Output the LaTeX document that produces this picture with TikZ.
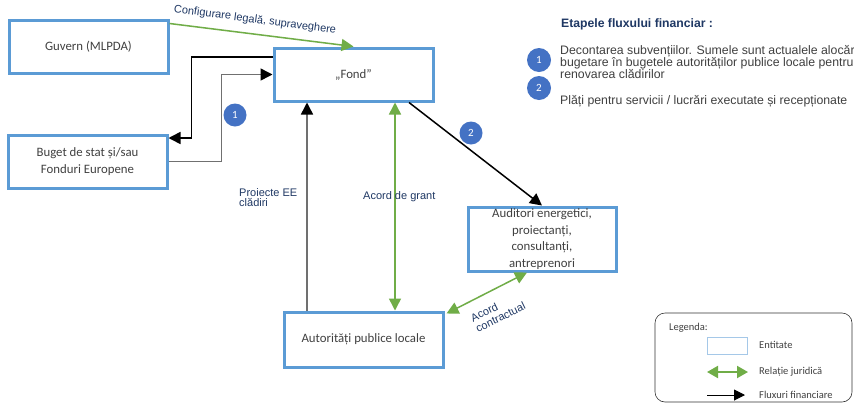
\documentclass[tikz,border=0pt]{standalone}
\usepackage{fontspec}
\setmainfont{Carlito}
\newfontfamily\arialf{Liberation Sans}
\usetikzlibrary{arrows.meta,calc}
\definecolor{boxblue}{HTML}{5B9BD5}
\definecolor{legalgreen}{HTML}{70AD47}
\definecolor{circblue}{HTML}{4472C4}
\definecolor{navy}{HTML}{1F3864}
\definecolor{bodygray}{HTML}{404040}
\definecolor{linegray}{HTML}{707070}
\tikzset{
  entity/.style={draw=boxblue, line width=3pt, fill=white, align=center, text=bodygray,
    font=\fontsize{12.8}{16.5}\selectfont, inner sep=0pt},
  fin/.style={draw=black, line width=1.5pt, -{Triangle[length=12pt,width=12pt]}},
  fingray/.style={draw=linegray, line width=1.5pt, -{Triangle[length=12pt,width=12pt,fill=black,color=black]}},
  legal/.style={draw=legalgreen, line width=1.5pt, {Triangle[length=12pt,width=12pt]}-{Triangle[length=12pt,width=12pt]}},
  legalone/.style={draw=legalgreen, line width=1.5pt, -{Triangle[length=12pt,width=12pt]}},
  numc/.style={circle, fill=circblue, text=white, minimum size=23pt, inner sep=0pt, font=\fontsize{11}{11}\selectfont},
  lbl/.style={text=navy, font=\arialf\fontsize{11}{10}\selectfont, inner sep=0pt, align=left},
  rtext/.style={text=bodygray, font=\arialf\fontsize{12.3}{12}\selectfont, inner sep=0pt, anchor=west},
  legtext/.style={text=bodygray, font=\fontsize{10.5}{12}\selectfont, inner sep=0pt, anchor=west}
}
\begin{document}
\begin{tikzpicture}[x=1pt,y=-1pt]
\useasboundingbox (0,0) rectangle (854,405);
\clip (0,0) rectangle (854,405);
\fill[white] (0,0) rectangle (854,405);

% entities
\node[entity, minimum width=159pt, minimum height=53pt] (guv) at (88.5,46.5) {Guvern (MLPDA)};
\node[entity, minimum width=159pt, minimum height=53pt] (fond) at (353.5,74.5) {„Fond”};
\node[entity, minimum width=159pt, minimum height=53pt] (buget) at (87.5,161.5) {Buget de stat și/sau\\Fonduri Europene};
\node[entity, minimum width=159pt, minimum height=55pt] (aut) at (363.5,339.5) {Autorități publice locale};
\node[entity, minimum width=148pt, minimum height=64pt] (aud) at (542,239) {Auditori energetici,\\proiectanți,\\consultanți,\\antreprenori};

% connectors
\draw[legalone] ([yshift=-5pt]guv.north east) -- (fond.north);
\node[lbl, rotate=-7.5] (lcfg) at (255,20) {Configurare legală, supraveghere};

\draw[fin] ([yshift=17.5pt]fond.west) -- ++(-81,0) |- ([yshift=23.5pt]buget.east);
\draw[fingray] (buget.east) -- ++(53,0) |- (fond.west);
\node[numc] (c1) at (235,115) {1};

\draw[fingray] ([xshift=-56.5pt]aut.north) -- ([xshift=-56.5pt]aut.north |- fond.south);
\node[lbl, anchor=north west] (lproj) at (239,188) {Proiecte EE\\clădiri};

\draw[legal] ([xshift=31.5pt]aut.north |- fond.south) -- ([xshift=31.5pt]aut.north);
\node[lbl, anchor=west] (lgrant) at (363,197) {Acord de grant};

\draw[fin] ([xshift=55.5pt]fond.south) -- (aud.north);
\node[numc] (c2) at (471,133) {2};

\draw[legal] ([xshift=2pt,yshift=-3pt]aut.north east) -- ([xshift=-15pt]aud.south);
\node[lbl, rotate=26, font=\arialf\fontsize{11}{11.5}\selectfont] (lcontr) at (498,312) {Acord\\contractual};

% right explanation
\node[text=navy, font=\arialf\bfseries\fontsize{12.2}{12}\selectfont, inner sep=0pt, anchor=west] (title) at (561,24) {Etapele fluxului financiar :};
\node[numc, minimum size=24pt] (k1) at (539,60) {1};
\node[numc, minimum size=24pt] (k2) at (539,88) {2};
\node[rtext] (t1) at (560,51) {Decontarea subvențiilor. Sumele sunt actualele alocări};
\node[rtext] (t2) at (560,63) {bugetare în bugetele autorităților publice locale pentru};
\node[rtext] (t3) at (560,74.5) {renovarea clădirilor};
\node[rtext] (t4) at (560,101) {Plăți pentru servicii / lucrări executate și recepționate};

% legend
\draw[draw=black!80, line width=0.6pt, rounded corners=10pt] (655,313) rectangle (852,402);
\node[legtext] (lg) at (669,328) {Legenda:};
\node[draw=boxblue!55, line width=0.8pt, minimum width=40pt, minimum height=17pt, inner sep=0pt] (lbox) at (727,345.5) {};
\node[legtext] (le1) at (759,345) {Entitate};
\coordinate (la1) at (707,372);
\coordinate (la2) at (748,372);
\draw[draw=legalgreen, line width=2pt, {Triangle[length=11pt,width=12pt]}-{Triangle[length=11pt,width=12pt]}] (la1) -- (la2);
\node[legtext] (le2) at (759,372) {Relație juridică};
\coordinate (lb1) at (707,395);
\coordinate (lb2) at (745,395);
\draw[draw=black, line width=1pt, -{Triangle[length=11pt,width=11pt]}] (lb1) -- (lb2);
\node[legtext] (le3) at (759,395) {Fluxuri financiare};
\end{tikzpicture}
\end{document}
